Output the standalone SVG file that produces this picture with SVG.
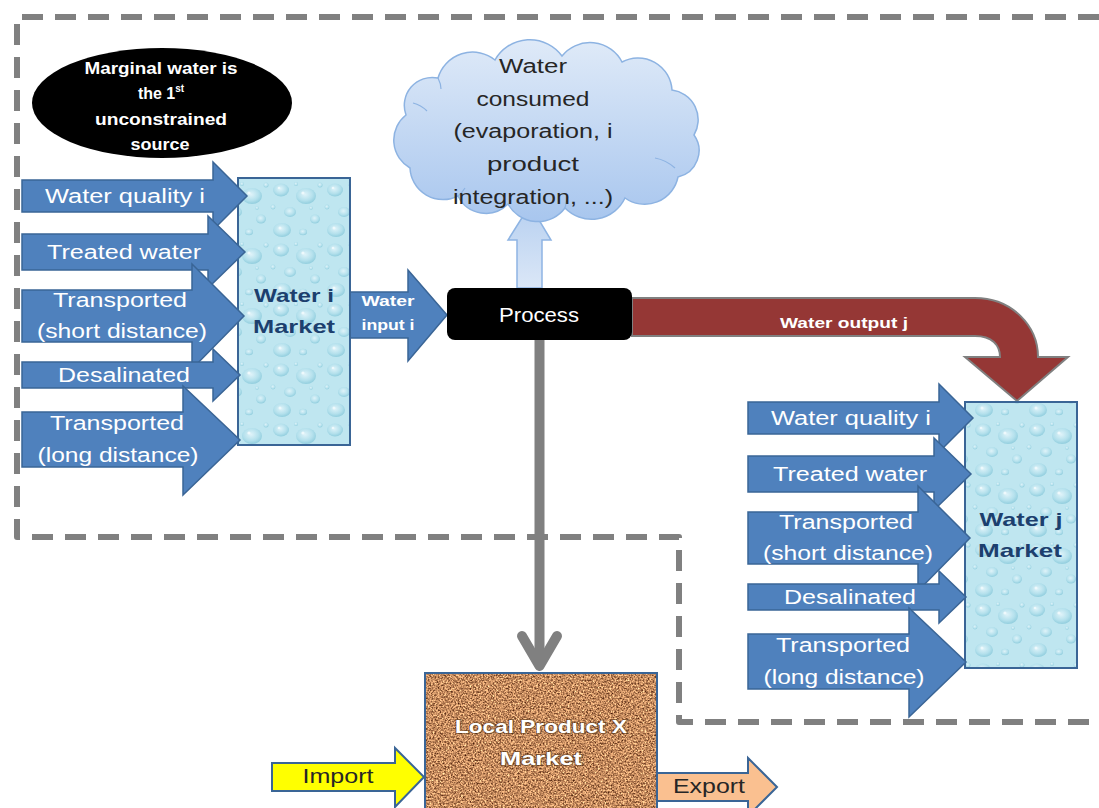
<svg xmlns="http://www.w3.org/2000/svg" width="1099" height="808" viewBox="0 0 1099 808">
  <defs>
    <style>
      .t { font-family: "Liberation Sans", Arial, sans-serif; text-anchor: middle; }
      .w20 { font-size: 20px; fill: #ffffff; }
      .blue-arrow { fill: #4f81bd; stroke: #3a6596; stroke-width: 1.5; }
      .mkt-label { font-size: 19px; font-weight: bold; fill: #1c3f6e; }
      .cloud-txt { font-size: 20px; fill: #262626; }
      .dark20 { font-size: 20px; fill: #262626; }
    </style>
    <!-- water-drop texture for the two water markets -->
    <radialGradient id="drop" cx="0.45" cy="0.4" r="0.6">
      <stop offset="0" stop-color="#dff3f9"/>
      <stop offset="0.65" stop-color="#b3e0ec"/>
      <stop offset="1" stop-color="#92cede"/>
    </radialGradient>
    <pattern id="water" width="54" height="60" patternUnits="userSpaceOnUse">
      <rect width="54" height="60" fill="#bfe6f0"/>
      <ellipse cx="11" cy="10" rx="8" ry="6.5" fill="url(#drop)"/>
      <ellipse cx="36" cy="16" rx="10" ry="8" fill="url(#drop)"/>
      <ellipse cx="20" cy="32" rx="6" ry="5" fill="url(#drop)"/>
      <ellipse cx="45" cy="39" rx="5" ry="4.5" fill="url(#drop)"/>
      <ellipse cx="12" cy="50" rx="9" ry="7" fill="url(#drop)"/>
      <ellipse cx="33" cy="52" rx="4" ry="3.2" fill="url(#drop)"/>
      <circle cx="3" cy="27" r="2.4" fill="url(#drop)"/>
      <circle cx="26" cy="4" r="2" fill="url(#drop)"/>
      <circle cx="50" cy="5" r="2.5" fill="url(#drop)"/>
      <circle cx="41" cy="28" r="1.8" fill="url(#drop)"/>
      <circle cx="9" cy="8" r="1.3" fill="#eef9fc"/>
      <circle cx="33" cy="13" r="1.6" fill="#eef9fc"/>
      <circle cx="10" cy="48" r="1.5" fill="#eef9fc"/>
    </pattern>
    <!-- cork texture for the product market -->
    <filter id="cork" x="0" y="0" width="1" height="1" color-interpolation-filters="sRGB">
      <feTurbulence type="fractalNoise" baseFrequency="0.6" numOctaves="3" seed="7" result="n"/>
      <feColorMatrix in="n" type="matrix" values="1.3 0 0 0 0.12  1.15 0 0 0 -0.03  0.9 0 0 0 -0.08  0 0 0 0 1" result="c"/>
      <feComposite in="c" in2="SourceGraphic" operator="in"/>
    </filter>
    <linearGradient id="cloudFill" x1="0" y1="0" x2="0" y2="1">
      <stop offset="0" stop-color="#dfeaf8"/>
      <stop offset="1" stop-color="#a8c6ee"/>
    </linearGradient>
    <linearGradient id="upFill" x1="0" y1="0" x2="0" y2="1">
      <stop offset="0" stop-color="#b7d0f0"/>
      <stop offset="1" stop-color="#dbe7f7"/>
    </linearGradient>
  </defs>

  <rect width="1099" height="808" fill="#ffffff"/>

  <!-- dashed system boundary -->
  <path d="M 1099 17 H 17 V 537 H 679 V 722 H 1099" fill="none" stroke="#808080" stroke-width="6" stroke-dasharray="21 12" stroke-linejoin="round"/>

  <!-- connectors -->
  <g id="connectors">
    <!-- water consumed (up to cloud) -->
    <path d="M 517 288 V 240 H 508 L 530 205 L 551 240 H 542 V 288 Z" fill="url(#upFill)" stroke="#8eb4e3" stroke-width="1.5"/>
    <!-- process to local product market -->
    <line x1="539.5" y1="340" x2="539.5" y2="664" stroke="#808080" stroke-width="10"/>
    <polyline points="522,636 539.5,666 557,636" fill="none" stroke="#808080" stroke-width="10" stroke-linecap="round" stroke-linejoin="round"/>
    <!-- water output j -->
    <path d="M 632 298 H 975 C 1012 298 1038 326 1038 357 H 1068 L 1017 401 L 965 357 H 1000 C 1000 345 992 336 975 336 H 632 Z" fill="#953735" stroke="#808080" stroke-width="2"/>
    <text class="t" x="844" y="328" font-size="15" font-weight="bold" fill="#ffffff" textLength="128" lengthAdjust="spacingAndGlyphs">Water output j</text>
    <!-- water input i -->
    <path class="blue-arrow" d="M 350 292 H 408 V 270 L 447 315 L 408 361 V 338 H 350 Z"/>
    <text class="t" x="388" y="306" font-size="15" font-weight="bold" fill="#ffffff" textLength="53" lengthAdjust="spacingAndGlyphs">Water</text>
    <text class="t" x="388" y="330" font-size="15" font-weight="bold" fill="#ffffff" textLength="53" lengthAdjust="spacingAndGlyphs">input i</text>
  </g>

  <!-- consumption cloud -->
  <g id="water-consumed">
    <path d="M 406 115 A 28 28 0 0 1 438 78 A 36 36 0 0 1 495 60 A 40 40 0 0 1 562 56 A 36 36 0 0 1 622 62 A 34 34 0 0 1 672 90 A 30 30 0 0 1 694 135 A 27 27 0 0 1 678 177 A 34 34 0 0 1 625 198 A 37 37 0 0 1 565 208 A 34 34 0 0 1 508 204 A 31 31 0 0 1 458 196 A 33 33 0 0 1 410 168 A 32 32 0 0 1 406 115 Z" fill="url(#cloudFill)" stroke="#8db3e2" stroke-width="1.5"/>
    <g fill="none" stroke="#8db3e2" stroke-width="1.2">
      <path d="M 413 103 Q 421 105 427 111"/>
      <path d="M 438 78 Q 441 84 441 89"/>
      <path d="M 655 158 Q 666 160 675 168"/>
      <path d="M 565 208 Q 566 202 568 197"/>
      <path d="M 458 196 Q 462 193 465 188"/>
    </g>
    <text class="t cloud-txt" x="533" y="73" textLength="68" lengthAdjust="spacingAndGlyphs">Water</text>
    <text class="t cloud-txt" x="533" y="106" textLength="113" lengthAdjust="spacingAndGlyphs">consumed</text>
    <text class="t cloud-txt" x="533" y="138" textLength="159" lengthAdjust="spacingAndGlyphs">(evaporation, i</text>
    <text class="t cloud-txt" x="533" y="171" textLength="92" lengthAdjust="spacingAndGlyphs">product</text>
    <text class="t cloud-txt" x="533" y="204" textLength="160" lengthAdjust="spacingAndGlyphs">integration, ...)</text>
  </g>

  <!-- process -->
  <g id="process">
    <rect x="447" y="288" width="185" height="52" rx="8" fill="#000000"/>
    <text class="t w20" x="539" y="322" textLength="80" lengthAdjust="spacingAndGlyphs">Process</text>
  </g>

  <!-- marginal water note -->
  <g id="marginal-note">
    <ellipse cx="162" cy="103" rx="130" ry="55" fill="#000000"/>
    <g class="t" font-size="16" font-weight="bold" fill="#ffffff">
      <text x="161" y="74" textLength="153" lengthAdjust="spacingAndGlyphs">Marginal water is</text>
      <text x="161" y="99">the 1<tspan font-size="10" dy="-7">st</tspan></text>
      <text x="161" y="125" textLength="132" lengthAdjust="spacingAndGlyphs">unconstrained</text>
      <text x="160" y="150" textLength="59" lengthAdjust="spacingAndGlyphs">source</text>
    </g>
  </g>

  <!-- water i market with its sources -->
  <g id="water-i-market">
    <rect x="238" y="178" width="112" height="267" fill="url(#water)" stroke="#3a6596" stroke-width="2"/>
    <text class="t mkt-label" x="294" y="302" textLength="80" lengthAdjust="spacingAndGlyphs">Water i</text>
    <text class="t mkt-label" x="294" y="333" textLength="82" lengthAdjust="spacingAndGlyphs">Market</text>
  </g>
  <g id="sources-i">
    <path class="blue-arrow" d="M 22 180 H 213 V 162 L 247 196 L 213 230 V 212 H 22 Z"/>
    <text class="t w20" x="125" y="203" textLength="160" lengthAdjust="spacingAndGlyphs">Water quality i</text>
    <path class="blue-arrow" d="M 22 234 H 208 V 216 L 245 252 L 208 288 V 270 H 22 Z"/>
    <text class="t w20" x="124" y="259" textLength="154" lengthAdjust="spacingAndGlyphs">Treated water</text>
    <path class="blue-arrow" d="M 22 290 H 192 V 264 L 244 316 L 192 369 V 342 H 22 Z"/>
    <text class="t w20" x="120" y="307" textLength="134" lengthAdjust="spacingAndGlyphs">Transported</text>
    <text class="t w20" x="122" y="338" textLength="170" lengthAdjust="spacingAndGlyphs">(short distance)</text>
    <path class="blue-arrow" d="M 22 362 H 213 V 349 L 240 375 L 213 401 V 388 H 22 Z"/>
    <text class="t w20" x="124" y="382" textLength="132" lengthAdjust="spacingAndGlyphs">Desalinated</text>
    <path class="blue-arrow" d="M 22 412 H 183 V 386 L 240 440 L 183 495 V 467 H 22 Z"/>
    <text class="t w20" x="117" y="430" textLength="134" lengthAdjust="spacingAndGlyphs">Transported</text>
    <text class="t w20" x="118" y="462" textLength="161" lengthAdjust="spacingAndGlyphs">(long distance)</text>
  </g>

  <!-- water j market with its sources -->
  <g id="water-j-market">
    <rect x="965" y="402" width="112" height="266" fill="url(#water)" stroke="#3a6596" stroke-width="2"/>
    <text class="t mkt-label" x="1021" y="526" textLength="83" lengthAdjust="spacingAndGlyphs">Water j</text>
    <text class="t mkt-label" x="1020" y="557" textLength="84" lengthAdjust="spacingAndGlyphs">Market</text>
  </g>
  <g id="sources-j" transform="translate(726 222)">
    <path class="blue-arrow" d="M 22 180 H 213 V 162 L 247 196 L 213 230 V 212 H 22 Z"/>
    <text class="t w20" x="125" y="203" textLength="160" lengthAdjust="spacingAndGlyphs">Water quality i</text>
    <path class="blue-arrow" d="M 22 234 H 208 V 216 L 245 252 L 208 288 V 270 H 22 Z"/>
    <text class="t w20" x="124" y="259" textLength="154" lengthAdjust="spacingAndGlyphs">Treated water</text>
    <path class="blue-arrow" d="M 22 290 H 192 V 264 L 244 316 L 192 369 V 342 H 22 Z"/>
    <text class="t w20" x="120" y="307" textLength="134" lengthAdjust="spacingAndGlyphs">Transported</text>
    <text class="t w20" x="122" y="338" textLength="170" lengthAdjust="spacingAndGlyphs">(short distance)</text>
    <path class="blue-arrow" d="M 22 362 H 213 V 349 L 240 375 L 213 401 V 388 H 22 Z"/>
    <text class="t w20" x="124" y="382" textLength="132" lengthAdjust="spacingAndGlyphs">Desalinated</text>
    <path class="blue-arrow" d="M 22 412 H 183 V 386 L 240 440 L 183 495 V 467 H 22 Z"/>
    <text class="t w20" x="117" y="430" textLength="134" lengthAdjust="spacingAndGlyphs">Transported</text>
    <text class="t w20" x="118" y="462" textLength="161" lengthAdjust="spacingAndGlyphs">(long distance)</text>
  </g>

  <!-- local product market with trade flows -->
  <g id="export">
    <path d="M 657 773 H 748 V 758 L 777 787 L 748 816 V 801 H 657 Z" fill="#fac090" stroke="#3a6596" stroke-width="2"/>
    <text class="t dark20" x="709" y="793" textLength="72" lengthAdjust="spacingAndGlyphs">Export</text>
  </g>
  <g id="local-product-market">
    <rect x="425" y="673" width="232" height="145" fill="#b07a4c" filter="url(#cork)"/>
    <rect x="425" y="673" width="232" height="145" fill="none" stroke="#3a6596" stroke-width="2"/>
    <g class="t" font-size="19" font-weight="bold" fill="#ffffff" stroke="#4a2e14" stroke-width="2" stroke-opacity="0.55" style="paint-order: stroke">
      <text x="541" y="733" textLength="172" lengthAdjust="spacingAndGlyphs">Local Product X</text>
      <text x="541" y="765" textLength="82" lengthAdjust="spacingAndGlyphs">Market</text>
    </g>
  </g>
  <g id="import">
    <path d="M 272 763 H 395 V 748 L 424 777 L 395 807 V 791 H 272 Z" fill="#ffff00" stroke="#3a6596" stroke-width="2"/>
    <text class="t dark20" x="338" y="783" textLength="71" lengthAdjust="spacingAndGlyphs">Import</text>
  </g>
</svg>
